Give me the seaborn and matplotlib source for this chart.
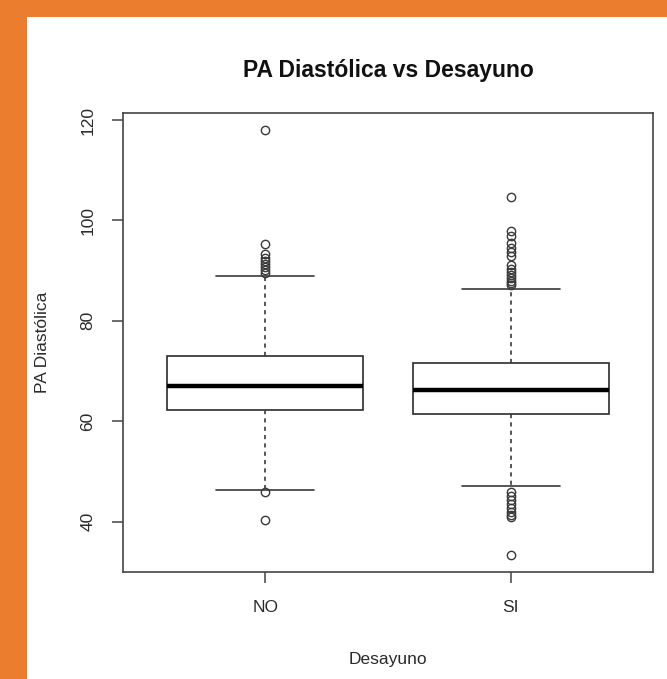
import matplotlib
matplotlib.use("Agg")
import matplotlib.pyplot as plt
import seaborn as sns
import pandas as pd
from matplotlib.patches import Rectangle

# ---- data ----
categories = ["NO", "SI"]

pa_no = [118.0, 95.4, 93.3, 92.5, 92.0, 91.4, 90.8, 90.2, 89.6, 89.0, 84.0, 78.0,
         73.0,
         72.5, 72.0, 71.5, 71.0, 70.5, 70.0, 69.5, 69.0, 68.5, 68.0, 67.5,
         67.0,
         66.6, 66.2, 65.8, 65.4, 65.0, 64.6, 64.2, 63.8, 63.4, 63.0, 62.6,
         62.3,
         61.5, 60.5, 59.5, 58.5, 57.0, 55.5, 54.0, 52.0, 49.5, 46.3, 46.0, 40.3]

pa_si = [104.6, 97.9, 96.8, 95.6, 94.5, 93.8, 93.0, 91.1, 90.4, 89.8, 89.2, 88.6,
         88.0, 87.5, 87.1, 86.4, 81.0, 76.0,
         71.6,
         71.4, 71.1, 70.8, 70.5, 70.2, 69.9, 69.6, 69.3, 69.0, 68.7, 68.4, 68.1,
         67.8, 67.5, 67.2, 66.9, 66.6,
         66.3,
         66.2, 66.0, 65.8, 65.5, 65.2, 64.9, 64.6, 64.3, 64.0, 63.7, 63.4, 63.1,
         62.8, 62.5, 62.2, 61.9, 61.6,
         61.4,
         60.7, 59.5, 58.0, 56.5, 55.0, 53.5, 51.5, 49.0, 47.1,
         45.9, 45.2, 44.4, 43.6, 42.8, 42.0, 41.4, 41.0, 33.4]

y_ticks = [40, 60, 80, 100, 120]

title = "PA Diastólica vs Desayuno"
x_label = "Desayuno"
y_label = "PA Diastólica"

df = pd.DataFrame({
    "Desayuno": [categories[0]] * len(pa_no) + [categories[1]] * len(pa_si),
    "PA": pa_no + pa_si,
})

# ---- style ----
sns.set_style("white")
plt.rcParams["font.family"] = ["Liberation Sans", "DejaVu Sans"]
ink = "#2b2b2b"
soft = "#3a3a3a"

W, H = 667, 679
fig = plt.figure(figsize=(W / 100, H / 100), dpi=100)
fig.patch.set_facecolor("white")

# orange frame stripes (top and left)
orange = "#EB7D2E"
fig.patches.append(Rectangle((0, 1 - 17 / H), 1, 17 / H, transform=fig.transFigure,
                             facecolor=orange, edgecolor="none", zorder=0))
fig.patches.append(Rectangle((0, 0), 27 / W, 1, transform=fig.transFigure,
                             facecolor=orange, edgecolor="none", zorder=0))

ax = fig.add_axes([123 / W, 1 - 572 / H, (653 - 123) / W, (572 - 113) / H])

sns.boxplot(
    data=df, x="Desayuno", y="PA", order=categories, ax=ax,
    color="white", linecolor=ink, linewidth=1.2, width=0.8, whis=1.5,
    fliersize=6,
    medianprops=dict(color="black", linewidth=3.2),
    whiskerprops=dict(linestyle=(0, (2.5, 2.5)), linewidth=1.2, color=soft),
    capprops=dict(linewidth=1.2, color=soft),
    flierprops=dict(marker="o", markerfacecolor="none", markeredgecolor=soft,
                    markeredgewidth=1.0),
)

ax.set_xlim(-0.58, 1.58)
ax.set_ylim(29.97, 121.4)
ax.set_yticks(y_ticks)
ax.set_yticklabels([str(v) for v in y_ticks], rotation=90, va="center")
ax.set_xlabel(x_label, fontsize=12.5, color=ink, labelpad=27)
ax.set_ylabel(y_label, fontsize=12.5, color=ink, labelpad=22)

for s in ax.spines.values():
    s.set_visible(True)
    s.set_color("#444444")
    s.set_linewidth(1.2)

ax.tick_params(axis="both", which="both", direction="out", length=8, width=1.1,
               color="#444444", labelsize=12.5, labelcolor=ink, pad=12,
               left=True, bottom=True)

fig.text((123 + 653) / 2 / W, 1 - 70 / H, title, ha="center", va="center",
         fontsize=16.5, fontweight="bold", color="#111111")

fig.savefig("out.png", dpi=100)
